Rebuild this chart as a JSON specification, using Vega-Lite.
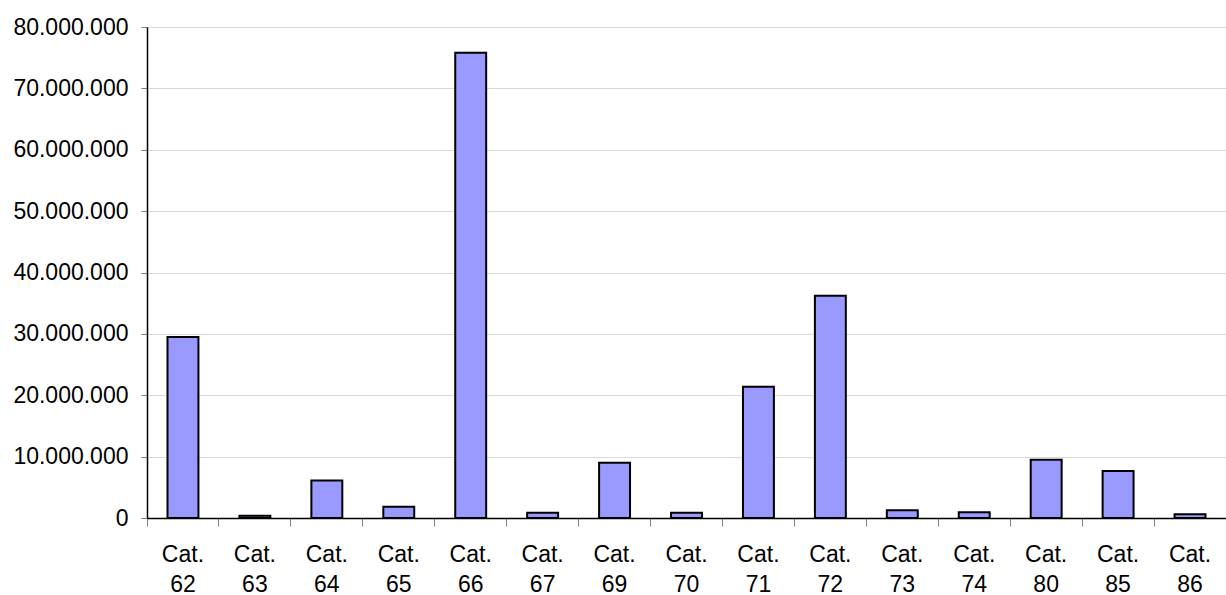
{
  "$schema": "https://vega.github.io/schema/vega-lite/v6.json",
  "width": 1079,
  "height": 491,
  "autosize": {"type": "none"},
  "padding": {"left": 147, "top": 27, "right": 0, "bottom": 77},
  "background": "white",
  "data": {
    "values": [
      {"cat": "Cat. 62", "value": 29500000},
      {"cat": "Cat. 63", "value": 350000},
      {"cat": "Cat. 64", "value": 6100000},
      {"cat": "Cat. 65", "value": 1850000},
      {"cat": "Cat. 66", "value": 75800000},
      {"cat": "Cat. 67", "value": 850000},
      {"cat": "Cat. 69", "value": 9000000},
      {"cat": "Cat. 70", "value": 850000},
      {"cat": "Cat. 71", "value": 21400000},
      {"cat": "Cat. 72", "value": 36200000},
      {"cat": "Cat. 73", "value": 1250000},
      {"cat": "Cat. 74", "value": 930000},
      {"cat": "Cat. 80", "value": 9500000},
      {"cat": "Cat. 85", "value": 7650000},
      {"cat": "Cat. 86", "value": 600000}
    ]
  },
  "mark": {"type": "bar", "fill": "#9999FF", "stroke": "#000000", "strokeWidth": 2, "width": {"band": 0.43}},
  "encoding": {
    "x": {
      "field": "cat",
      "type": "nominal",
      "sort": null,
      "scale": {"paddingInner": 0, "paddingOuter": 0},
      "axis": {
        "title": null,
        "labelAngle": 0,
        "labelExpr": "split(datum.label, ' ')",
        "labelFont": "Liberation Sans",
        "labelFontSize": 23,
        "labelColor": "#000000",
        "labelLineHeight": 30,
        "labelPadding": 17,
        "labelOverlap": false,
        "bandPosition": 0,
        "tickSize": 8,
        "tickColor": "#808080",
        "domainColor": "#000000",
        "domainWidth": 1.5,
        "grid": false
      }
    },
    "y": {
      "field": "value",
      "type": "quantitative",
      "scale": {"domain": [0, 80000000], "nice": false},
      "axis": {
        "title": null,
        "values": [0, 10000000, 20000000, 30000000, 40000000, 50000000, 60000000, 70000000, 80000000],
        "labelExpr": "replace(format(datum.value, ','), /,/g, '.')",
        "labelFont": "Liberation Sans",
        "labelFontSize": 23,
        "labelColor": "#000000",
        "labelPadding": 13,
        "labelOverlap": false,
        "tickSize": 6,
        "tickColor": "#808080",
        "domainColor": "#000000",
        "domainWidth": 1.5,
        "grid": true,
        "gridColor": "#d9d9d9",
        "gridWidth": 1
      }
    }
  },
  "config": {"view": {"stroke": null}}
}
